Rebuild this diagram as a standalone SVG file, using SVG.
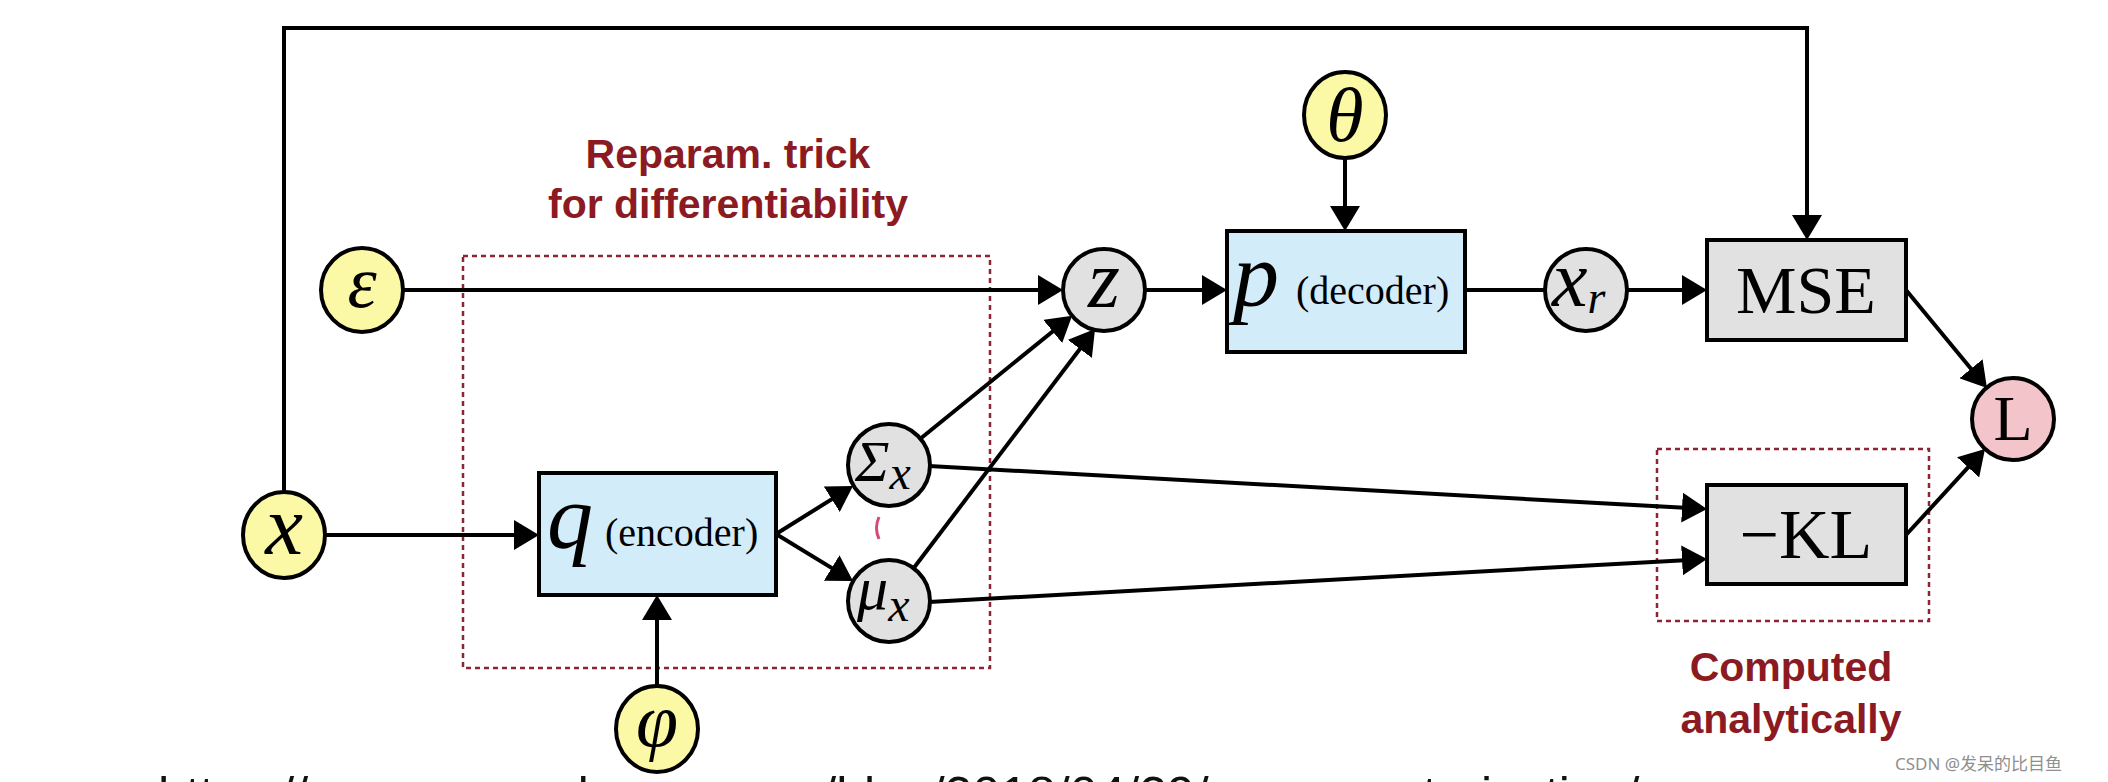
<svg xmlns="http://www.w3.org/2000/svg" width="2108" height="782" viewBox="0 0 2108 782">
<style>
.ln{fill:none;stroke:#000;stroke-width:4}
.yel{fill:#fbf8a6;stroke:#000;stroke-width:4}
.gry{fill:#e1e1e1;stroke:#000;stroke-width:4}
.blu{fill:#d3ecf9;stroke:#000;stroke-width:4}
.pnk{fill:#f3c5ca;stroke:#000;stroke-width:4}
.dash{fill:none;stroke:#8b2535;stroke-width:2.5;stroke-dasharray:5 4}
.m{font-family:"Liberation Serif",serif;font-style:italic;fill:#000}
.r{font-family:"Liberation Serif",serif;fill:#000}
.lab{font-family:"Liberation Sans",sans-serif;font-weight:bold;font-size:41px;fill:#8b1a22;text-anchor:middle}
</style>
<defs>
<marker id="ah" markerUnits="userSpaceOnUse" markerWidth="26" markerHeight="30" refX="21" refY="15" orient="auto" viewBox="0 0 26 30">
<path d="M0,0 L25,15 L0,30 Z" fill="#000"/>
</marker>
</defs>
<rect width="2108" height="782" fill="#fff"/>

<g id="annotations">
<rect class="dash" x="463" y="256" width="527" height="412"/>
<rect class="dash" x="1657" y="449" width="272" height="172"/>
<text class="lab" x="728" y="168">Reparam. trick</text>
<text class="lab" x="728" y="218">for differentiability</text>
<text class="lab" x="1791" y="681">Computed</text>
<text class="lab" x="1791" y="733">analytically</text>
</g>

<g id="connectors">
<path class="ln" d="M403,290 L1059,290" marker-end="url(#ah)"/>
<path class="ln" d="M1145,290 L1223,290" marker-end="url(#ah)"/>
<path class="ln" d="M1465,290 L1545,290"/>
<path class="ln" d="M1627,290 L1703,290" marker-end="url(#ah)"/>
<path class="ln" d="M1906,290 L1984.4,384.9" marker-end="url(#ah)"/>
<path class="ln" d="M1906,535 L1982.3,451.9" marker-end="url(#ah)"/>
<path class="ln" d="M284,492 L284,28 L1807,28 L1807,236" marker-end="url(#ah)"/>
<path class="ln" d="M1345,157 L1345,227" marker-end="url(#ah)"/>
<path class="ln" d="M325,535 L535,535" marker-end="url(#ah)"/>
<path class="ln" d="M657,686 L657,599" marker-end="url(#ah)"/>
<path class="ln" d="M776,534 L849.6,488.1" marker-end="url(#ah)"/>
<path class="ln" d="M776,534 L849.6,578.9" marker-end="url(#ah)"/>
<path class="ln" d="M920,439 L1069,318.2" marker-end="url(#ah)"/>
<path class="ln" d="M913,569 L1092.6,332.2" marker-end="url(#ah)"/>
<path class="ln" d="M929,466 L1703,508.8" marker-end="url(#ah)"/>
<path class="ln" d="M929,602 L1703,559.2" marker-end="url(#ah)"/>
</g>

<g id="node-x">
<ellipse class="yel" cx="284" cy="535" rx="41" ry="43"/>
<text class="m" x="284" y="554" font-size="85" text-anchor="middle">x</text>
</g>
<g id="node-eps">
<ellipse class="yel" cx="362" cy="290" rx="41" ry="42"/>
<text class="m" x="362" y="307" font-size="74" text-anchor="middle">ε</text>
</g>
<g id="node-theta">
<ellipse class="yel" cx="1345" cy="115" rx="41" ry="43"/>
<text class="m" x="1345" y="141" font-size="76" text-anchor="middle">θ</text>
</g>
<g id="node-phi">
<ellipse class="yel" cx="657" cy="729" rx="41" ry="43"/>
<text class="m" x="657" y="746" font-size="76" text-anchor="middle">φ</text>
</g>
<g id="node-z">
<circle class="gry" cx="1104" cy="290" r="41"/>
<text class="m" x="1104" y="307" font-size="82" text-anchor="middle">z</text>
</g>
<g id="node-decoder">
<rect class="blu" x="1227" y="231" width="238" height="121"/>
<text class="m" x="1233" y="306" font-size="92">p</text>
<text class="r" x="1296" y="304" font-size="40">(decoder)</text>
</g>
<g id="node-xr">
<circle class="gry" cx="1586" cy="290" r="41"/>
<text class="m" x="1552" y="306" font-size="80">x<tspan font-size="46" dy="7">r</tspan></text>
</g>
<g id="node-mse">
<rect class="gry" x="1707" y="240" width="199" height="100"/>
<text class="r" x="1806" y="313" font-size="68" text-anchor="middle">MSE</text>
</g>
<g id="node-kl">
<rect class="gry" x="1707" y="485" width="199" height="99"/>
<text class="r" x="1806" y="558" font-size="70" text-anchor="middle">−KL</text>
</g>
<g id="node-L">
<circle class="pnk" cx="2013" cy="419" r="41"/>
<text class="r" x="2013" y="440" font-size="64" text-anchor="middle">L</text>
</g>
<g id="node-encoder">
<rect class="blu" x="539" y="473" width="237" height="122"/>
<text class="m" x="547" y="548" font-size="92">q</text>
<text class="r" x="605" y="546" font-size="40">(encoder)</text>
</g>
<g id="node-sigma">
<circle class="gry" cx="889" cy="465" r="41"/>
<text class="m" x="855" y="481" font-size="58">Σ<tspan font-size="48" dy="8">x</tspan></text>
</g>
<g id="node-mu">
<circle class="gry" cx="889" cy="601" r="41"/>
<text class="m" x="857" y="609" font-size="62">μ<tspan font-size="48" dy="12">x</tspan></text>
</g>

<path d="M879,517 Q874,528 879,539" fill="none" stroke="#d24a78" stroke-width="3"/>

<text x="158" y="812" font-family="Liberation Sans,sans-serif" font-size="50" fill="#111">https://gregorygundersen.com/blog/2018/04/29/reparameterization/</text>
<text x="1895" y="770" font-family="'Noto Sans','Noto Sans CJK SC',sans-serif" font-size="17" fill="#8f8f8f">CSDN @发呆的比目鱼</text>
</svg>
